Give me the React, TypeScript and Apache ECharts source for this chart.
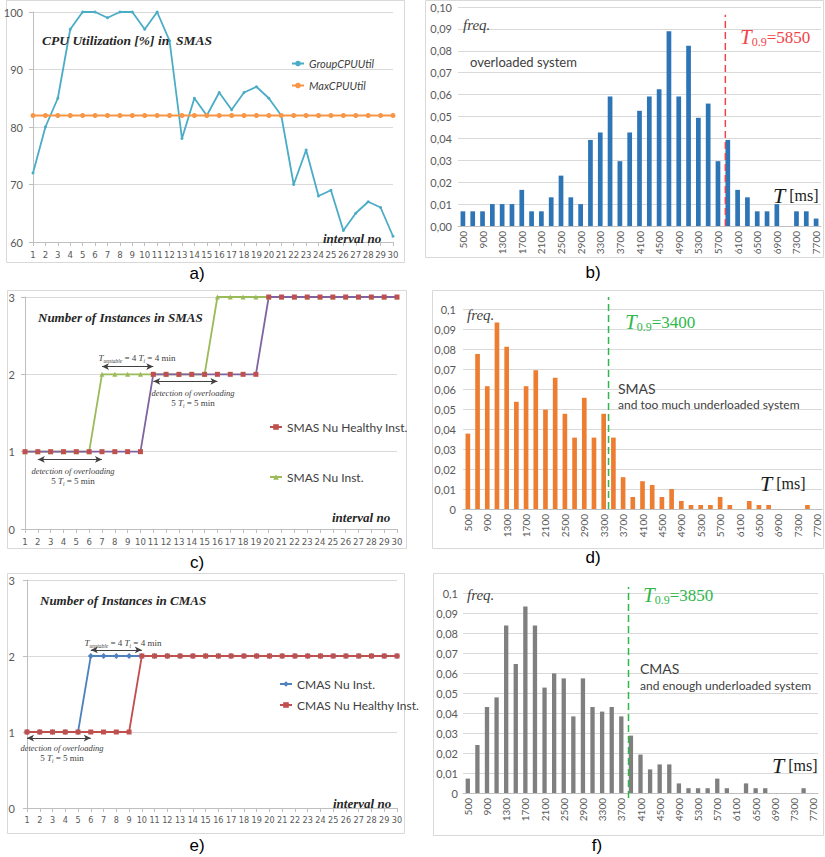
import React, { useEffect, useRef } from "react";
import * as echarts from "echarts";

// ---------------- data ----------------
const intervals = ["1","2","3","4","5","6","7","8","9","10","11","12","13","14","15","16","17","18","19","20","21","22","23","24","25","26","27","28","29","30"];
const groupCpuUtil = [72,80,85,97,100,100,99,100,100,97,100,95,78,85,82,86,83,86,87,85,82,70,76,68,69,62,65,67,66,61];
const maxCpuUtil = [82,82,82,82,82,82,82,82,82,82,82,82,82,82,82,82,82,82,82,82,82,82,82,82,82,82,82,82,82,82];

const smasNuInst = [1,1,1,1,1,1,2,2,2,2,2,2,2,2,2,3,3,3,3,3,3,3,3,3,3,3,3,3,3,3];
const smasNuHealthy = [1,1,1,1,1,1,1,1,1,1,2,2,2,2,2,2,2,2,2,3,3,3,3,3,3,3,3,3,3,3];
const cmasNuInst = [1,1,1,1,1,2,2,2,2,2,2,2,2,2,2,2,2,2,2,2,2,2,2,2,2,2,2,2,2,2];
const cmasNuHealthy = [1,1,1,1,1,1,1,1,1,2,2,2,2,2,2,2,2,2,2,2,2,2,2,2,2,2,2,2,2,2];

const timeBins = ["500","700","900","1100","1300","1500","1700","1900","2100","2300","2500","2700","2900","3100","3300","3500","3700","3900","4100","4300","4500","4700","4900","5100","5300","5500","5700","5900","6100","6300","6500","6700","6900","7100","7300","7500","7700"];
const freqOverloaded = [0.0067,0.0067,0.0067,0.01,0.01,0.01,0.0165,0.0067,0.0067,0.0131,0.023,0.0131,0.01,0.0393,0.0427,0.0591,0.0296,0.0427,0.0526,0.0591,0.0625,0.0889,0.0591,0.0823,0.0494,0.0559,0.0296,0.0393,0.0165,0.0131,0.0067,0.0067,0.01,0,0.0067,0.0067,0.0034];
const freqSmas = [0.0377,0.0775,0.0614,0.0933,0.0811,0.0536,0.0614,0.0694,0.0497,0.0656,0.0476,0.0357,0.0556,0.0357,0.0476,0.0357,0.0159,0.006,0.0139,0.012,0.006,0.01,0.004,0.002,0.002,0.002,0.006,0.002,0,0.004,0.002,0.002,0,0,0,0.002,0];
const freqCmas = [0.0072,0.024,0.043,0.0478,0.0837,0.0645,0.0933,0.0837,0.0527,0.0598,0.0573,0.0383,0.0573,0.043,0.0407,0.043,0.0383,0.0287,0.0192,0.0118,0.0143,0.0143,0.0048,0.0024,0.0024,0.0024,0.0072,0.0024,0,0.0048,0.0024,0.0024,0,0,0,0.0024,0];

const t09Overloaded = 5850;
const t09Smas = 3400;
const t09Cmas = 3850;

// ---------------- styles ----------------
const SERIF = '"Liberation Serif", "Times New Roman", serif';
const SANS = 'Lato, "Liberation Sans", sans-serif';
const NARROW = '"Liberation Sans Narrow", "DejaVu Sans Condensed", Roboto, Lato, sans-serif';
const AXIS_GRAY = "#bfbfbf";
const GRID_GRAY = "#d9d9d9";
const LABEL_GRAY = "#595959";

function txt(x: number, y: number, text: string, style: any = {}) {
  return {
    type: "text",
    x,
    y,
    silent: true,
    z: 10,
    style: {
      text,
      fill: "#404040",
      fontFamily: SANS,
      fontSize: 12,
      align: "left",
      verticalAlign: "middle",
      ...style,
    },
  };
}

function tLabel(x: number, y: number, val: number, color: string) {
  return txt(x, y, `{t|T}{s|0.9}{n|=${val}}`, {
    fill: color,
    rich: {
      t: { fontFamily: SERIF, fontStyle: "italic", fontSize: 21, fill: color, lineHeight: 22 },
      s: { fontFamily: SERIF, fontSize: 12, fill: color, lineHeight: 13, verticalAlign: "bottom" },
      n: { fontFamily: SERIF, fontSize: 17, fill: color, lineHeight: 22 },
    },
  });
}

function msLabel(x: number, y: number) {
  return txt(x, y, "{t|T}{m| [ms]}", {
    fill: "#1a1a1a",
    rich: {
      t: { fontFamily: SERIF, fontStyle: "italic", fontSize: 22, fill: "#1a1a1a", lineHeight: 22 },
      m: { fontFamily: SERIF, fontSize: 16, fill: "#1a1a1a", lineHeight: 22 },
    },
  });
}

function freqLabel(x: number, y: number) {
  return txt(x, y, "freq.", { fontFamily: SERIF, fontStyle: "italic", fontSize: 15, fill: "#404040" });
}

function tUnstable(x: number, y: number) {
  const c = "#404040";
  return txt(x, y, "{i|T}{s|unstable}{n| = 4 }{i|T}{s|i}{n| = 4 min}", {
    align: "center",
    fill: c,
    rich: {
      i: { fontFamily: SERIF, fontStyle: "italic", fontSize: 9, fill: c, lineHeight: 11 },
      s: { fontFamily: SERIF, fontStyle: "italic", fontSize: 5.5, fill: c, lineHeight: 6, verticalAlign: "bottom" },
      n: { fontFamily: SERIF, fontSize: 9, fill: c, lineHeight: 11 },
    },
  });
}

function detection(x: number, y: number) {
  const c = "#404040";
  return [
    txt(x, y, "detection of overloading", { align: "center", fontFamily: SERIF, fontStyle: "italic", fontSize: 8.5, fill: c }),
    txt(x, y + 10, "{n|5 }{i|T}{s|i}{n| = 5 min}", {
      align: "center",
      fill: c,
      rich: {
        i: { fontFamily: SERIF, fontStyle: "italic", fontSize: 9, fill: c, lineHeight: 11 },
        s: { fontFamily: SERIF, fontStyle: "italic", fontSize: 5.5, fill: c, lineHeight: 6, verticalAlign: "bottom" },
        n: { fontFamily: SERIF, fontSize: 9, fill: c, lineHeight: 11 },
      },
    }),
  ];
}

function frame(x: number, y: number, w: number, h: number) {
  return { type: "rect", silent: true, shape: { x, y, width: w, height: h }, style: { fill: "none", stroke: GRID_GRAY, lineWidth: 1 } };
}

function caption(x: number, y: number, text: string) {
  return txt(x, y, text, { align: "center", fontFamily: '"Liberation Sans", Arial, sans-serif', fontSize: 17, fill: "#000" });
}

const idx = (name: string) => intervals.indexOf(name);

function lineCatX(gridIndex: number, fontSize: number) {
  return {
    type: "category",
    gridIndex,
    data: intervals,
    boundaryGap: false,
    axisLine: { show: true, lineStyle: { color: AXIS_GRAY } },
    axisTick: { show: true, interval: 0, length: 4, lineStyle: { color: AXIS_GRAY } },
    axisLabel: { interval: 0, fontSize, color: LABEL_GRAY, margin: 7, fontFamily: NARROW },
    splitLine: { show: false },
  };
}

function histX(gridIndex: number) {
  return {
    type: "category",
    gridIndex,
    data: timeBins,
    axisLine: { show: true, lineStyle: { color: AXIS_GRAY } },
    axisTick: { show: false },
    axisLabel: { interval: 1, rotate: 90, fontSize: 10, color: LABEL_GRAY, margin: 5, fontFamily: SANS },
  };
}

function overlayX(gridIndex: number) {
  return { type: "value", gridIndex, min: 400, max: 7800, show: false };
}

function histY(gridIndex: number, twoDec: boolean, margin: number) {
  return {
    type: "value",
    gridIndex,
    min: 0,
    max: 0.1,
    interval: 0.01,
    axisLine: { show: false },
    axisTick: { show: false },
    splitLine: { lineStyle: { color: GRID_GRAY } },
    axisLabel: {
      fontSize: 11,
      color: LABEL_GRAY,
      margin,
      fontFamily: SANS,
      formatter: (v: number) =>
        twoDec ? v.toFixed(2).replace(".", ",") : (Math.round(v * 100) / 100).toString().replace(".", ","),
    },
  };
}

function lineY(gridIndex: number, min: number, max: number, interval: number, margin: number) {
  return {
    type: "value",
    gridIndex,
    min,
    max,
    interval,
    axisLine: { show: true, lineStyle: { color: AXIS_GRAY } },
    axisTick: { show: true, length: 4, lineStyle: { color: AXIS_GRAY } },
    splitLine: { lineStyle: { color: GRID_GRAY } },
    axisLabel: { fontSize: 11, color: LABEL_GRAY, margin, fontFamily: SANS },
  };
}

function arrowMarkLine(spans: [number, number, number][]) {
  return {
    silent: true,
    symbol: ["arrow", "arrow"],
    symbolSize: [5, 7],
    lineStyle: { color: "#404040", width: 1, type: "solid" },
    label: { show: false },
    emphasis: { disabled: true },
    data: spans.map(([a, b, y]) => [{ coord: [a, y] }, { coord: [b, y] }]),
  };
}

function tLine(xAxisIndex: number, yAxisIndex: number, t: number, top: number, bottom: number, color: string) {
  return {
    type: "line",
    xAxisIndex,
    yAxisIndex,
    data: [[t, bottom], [t, top]],
    symbol: "none",
    clip: false,
    silent: true,
    z: 5,
    lineStyle: { color, width: 1.5, type: [7, 4] },
  };
}

const legendText = { fontSize: 12, color: "#404040", fontFamily: SANS };

export default function App() {
  const ref = useRef<HTMLDivElement>(null);

  useEffect(() => {
    if (!ref.current) return;
    const chart = echarts.init(ref.current, null, { renderer: "svg" });
    const RED = "#F0444A";
    const GREEN = "#2EB84B";

    const option: any = {
      animation: false,
      backgroundColor: "#ffffff",
      textStyle: { fontFamily: SANS },
      grid: [
        { left: 33, top: 12, width: 360, height: 230 },
        { left: 458, top: 7, width: 363, height: 219 },
        { left: 25, top: 297, width: 372, height: 232 },
        { left: 463, top: 309, width: 359, height: 200 },
        { left: 27, top: 580, width: 370, height: 228 },
        { left: 463, top: 593, width: 355, height: 200 },
      ],
      xAxis: [
        lineCatX(0, 9.5),
        histX(1),
        lineCatX(2, 9.5),
        histX(3),
        lineCatX(4, 9),
        histX(5),
        overlayX(1),
        overlayX(3),
        overlayX(5),
      ],
      yAxis: [
        lineY(0, 60, 100, 10, 10),
        histY(1, true, 6),
        lineY(2, 0, 3, 1, 10),
        histY(3, false, 7),
        lineY(4, 0, 3, 1, 12),
        histY(5, false, 5),
      ],
      legend: [
        {
          data: ["GroupCPUUtil", "MaxCPUUtil"],
          orient: "vertical",
          left: 286,
          top: 53,
          itemGap: 11,
          itemWidth: 12,
          itemHeight: 7,
          textStyle: { ...legendText, fontStyle: "italic", fontSize: 11 },
        },
        {
          data: [
            { name: "SMAS Nu Healthy Inst.", itemStyle: { color: "#C0504D" }, lineStyle: { color: "#C0504D" } },
            { name: "SMAS Nu Inst." },
          ],
          orient: "vertical",
          left: 264,
          top: 416,
          itemGap: 38,
          itemWidth: 12,
          itemHeight: 7,
          textStyle: legendText,
        },
        {
          data: ["CMAS Nu Inst.", "CMAS Nu Healthy Inst."],
          orient: "vertical",
          left: 274,
          top: 673,
          itemGap: 9,
          itemWidth: 12,
          itemHeight: 7,
          textStyle: legendText,
        },
      ],
      series: [
        // a)
        {
          name: "GroupCPUUtil", type: "line", xAxisIndex: 0, yAxisIndex: 0, data: groupCpuUtil,
          symbol: "circle", symbolSize: 3, itemStyle: { color: "#4BACC6" }, lineStyle: { color: "#4BACC6", width: 1.8 },
        },
        {
          name: "MaxCPUUtil", type: "line", xAxisIndex: 0, yAxisIndex: 0, data: maxCpuUtil,
          symbol: "circle", symbolSize: 5, itemStyle: { color: "#F79646" }, lineStyle: { color: "#F79646", width: 2 },
        },
        // b)
        { type: "bar", xAxisIndex: 1, yAxisIndex: 1, data: freqOverloaded, barWidth: "48%", itemStyle: { color: "#2E75B6" } },
        tLine(6, 1, t09Overloaded, 0.0965, 0, RED),
        // c)
        {
          name: "SMAS Nu Inst.", type: "line", xAxisIndex: 2, yAxisIndex: 2, data: smasNuInst,
          symbol: "triangle", symbolSize: 5, itemStyle: { color: "#9BBB59" }, lineStyle: { color: "#9BBB59", width: 1.8 },
        },
        {
          name: "SMAS Nu Healthy Inst.", type: "line", xAxisIndex: 2, yAxisIndex: 2, data: smasNuHealthy,
          symbol: "rect", symbolSize: 5, itemStyle: { color: "#C0504D" }, lineStyle: { color: "#8064A2", width: 1.8 },
          markLine: arrowMarkLine([
            [idx("7"), idx("11"), 2.1],
            [idx("11"), idx("16"), 1.91],
            [idx("2"), idx("7"), 0.9],
          ]),
        },
        // d)
        { type: "bar", xAxisIndex: 3, yAxisIndex: 3, data: freqSmas, barWidth: "48%", itemStyle: { color: "#ED7D31" } },
        tLine(7, 3, t09Smas, 0.106, 0, GREEN),
        // e)
        {
          name: "CMAS Nu Inst.", type: "line", xAxisIndex: 4, yAxisIndex: 4, data: cmasNuInst,
          symbol: "diamond", symbolSize: 6, itemStyle: { color: "#4F81BD" }, lineStyle: { color: "#4F81BD", width: 1.8 },
        },
        {
          name: "CMAS Nu Healthy Inst.", type: "line", xAxisIndex: 4, yAxisIndex: 4, data: cmasNuHealthy,
          symbol: "rect", symbolSize: 5, itemStyle: { color: "#C0504D" }, lineStyle: { color: "#C0504D", width: 1.8 },
          markLine: arrowMarkLine([
            [idx("6"), idx("10"), 2.08],
            [idx("1"), idx("6"), 0.92],
          ]),
        },
        // f)
        { type: "bar", xAxisIndex: 5, yAxisIndex: 5, data: freqCmas, barWidth: "45%", itemStyle: { color: "#7F7F7F" } },
        tLine(8, 5, t09Cmas, 0.103, -0.0025, GREEN),
      ],
      graphic: [
        frame(6.5, 0.5, 398, 262),
        frame(425.5, 0.5, 398, 257),
        frame(7.5, 290.5, 399, 258),
        frame(432.5, 290.5, 391, 258),
        frame(7.5, 573.5, 397, 260),
        frame(433.5, 573.5, 390, 262),
        caption(197, 273, "a)"),
        caption(593, 272, "b)"),
        caption(197, 562, "c)"),
        caption(593, 557, "d)"),
        caption(197, 845, "e)"),
        caption(597, 845, "f)"),
        // a) texts
        txt(42, 40, "CPU Utilization [%] in  SMAS", { fontFamily: SERIF, fontStyle: "italic", fontWeight: "bold", fontSize: 13.5, fill: "#262626" }),
        txt(323, 238, "interval no", { fontFamily: SERIF, fontStyle: "italic", fontWeight: "bold", fontSize: 13, fill: "#262626" }),
        // b) texts
        freqLabel(463, 25),
        txt(470, 62, "overloaded system", { fontSize: 13, fill: "#404040" }),
        tLabel(740, 37, t09Overloaded, RED),
        msLabel(773, 195),
        // c) texts
        txt(38, 317, "Number of Instances in SMAS", { fontFamily: SERIF, fontStyle: "italic", fontWeight: "bold", fontSize: 13, fill: "#262626" }),
        txt(332, 517, "interval no", { fontFamily: SERIF, fontStyle: "italic", fontWeight: "bold", fontSize: 13, fill: "#262626" }),
        tUnstable(137, 358),
        ...detection(193, 393),
        ...detection(73, 471),
        // d) texts
        freqLabel(467, 315),
        tLabel(625, 322, t09Smas, GREEN),
        txt(618, 388, "SMAS", { fontSize: 14, fill: "#404040" }),
        txt(618, 404, "and too much underloaded system", { fontSize: 12, fill: "#404040" }),
        msLabel(760, 483),
        // e) texts
        txt(40, 600, "Number of Instances in CMAS", { fontFamily: SERIF, fontStyle: "italic", fontWeight: "bold", fontSize: 13, fill: "#262626" }),
        txt(333, 803, "interval no", { fontFamily: SERIF, fontStyle: "italic", fontWeight: "bold", fontSize: 13, fill: "#262626" }),
        tUnstable(123, 643),
        ...detection(62, 748),
        // f) texts
        freqLabel(467, 595),
        tLabel(643, 595, t09Cmas, GREEN),
        txt(640, 668, "CMAS", { fontSize: 14, fill: "#404040" }),
        txt(640, 685, "and enough underloaded system", { fontSize: 12, fill: "#404040" }),
        msLabel(772, 765),
      ],
    };

    chart.setOption(option);
    return () => chart.dispose();
  }, []);

  return (
    <div style={{ position: "absolute", left: 0, top: 0, width: 825, height: 857, background: "#fff" }}>
      <div ref={ref} style={{ width: 825, height: 857 }} />
    </div>
  );
}
